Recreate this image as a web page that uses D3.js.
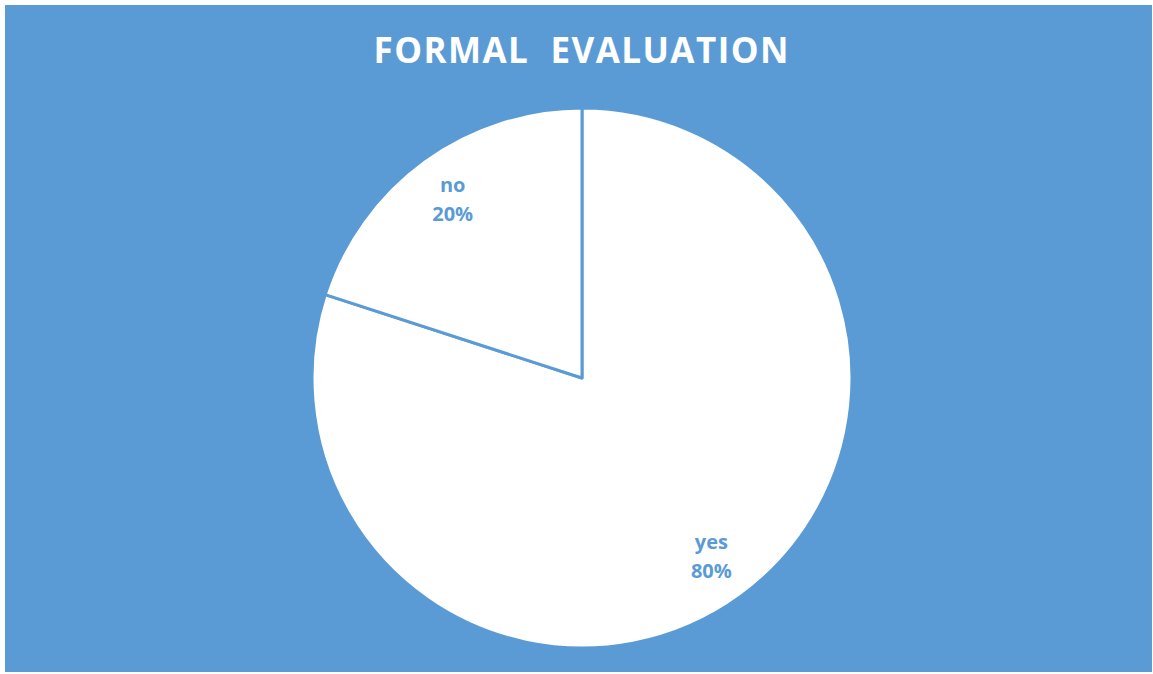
<!DOCTYPE html>
<html>
<head>
<meta charset="utf-8">
<script src="https://cdn.jsdelivr.net/npm/d3@7"></script>
<style>
  html, body { margin: 0; padding: 0; background: #ffffff; }
  svg { display: block; }
</style>
</head>
<body>
<svg id="chart" width="1153" height="674"></svg>
<script>
// Survey answers for formal evaluation
const categories = ["yes", "no"];
const values = [80, 20];
const percentLabels = ["80%", "20%"];
const title = "FORMAL  EVALUATION";

const W = 1153, H = 674;
const blue = "#5B9BD5";
const font = "'Open Sans', 'Liberation Sans', sans-serif";
const svg = d3.select("#chart");

// chart area background
svg.append("rect")
  .attr("x", 5).attr("y", 5)
  .attr("width", W - 6).attr("height", H - 7)
  .attr("fill", blue);

// title
svg.append("text")
  .attr("x", 581).attr("y", 63)
  .attr("text-anchor", "middle")
  .attr("fill", "#ffffff")
  .attr("font-family", font)
  .attr("font-weight", "bold")
  .attr("font-size", 35)
  .attr("textLength", 415)
  .attr("lengthAdjust", "spacing")
  .style("white-space", "pre")
  .text(title);

const cx = 582, cy = 378, r = 270;
const g = svg.append("g").attr("transform", `translate(${cx},${cy})`);

const pie = d3.pie().sort(null).value(d => d.value);
const data = categories.map((c, i) => ({ cat: c, value: values[i], pct: percentLabels[i] }));
const arcs = pie(data);

const arc = d3.arc().innerRadius(0).outerRadius(r);
g.selectAll("path.slice")
  .data(arcs)
  .join("path")
  .attr("class", "slice")
  .attr("d", arc)
  .attr("fill", "#ffffff")
  .attr("stroke", blue)
  .attr("stroke-width", 3)
  .attr("stroke-linejoin", "round");

// labels placed inside each slice, on the slice bisector
const labelArc = d3.arc().innerRadius(r * 0.815).outerRadius(r * 0.815);

const labels = g.selectAll("g.label")
  .data(arcs)
  .join("g")
  .attr("class", "label")
  .attr("transform", d => {
    const p = labelArc.centroid(d);
    return `translate(${p[0]},${p[1]})`;
  });

labels.append("text")
  .attr("text-anchor", "middle")
  .attr("y", -7.5)
  .attr("fill", blue)
  .attr("font-family", font)
  .attr("font-weight", "bold")
  .attr("font-size", 20)
  .text(d => d.data.cat);

labels.append("text")
  .attr("text-anchor", "middle")
  .attr("y", 21.5)
  .attr("fill", blue)
  .attr("font-family", font)
  .attr("font-weight", "bold")
  .attr("font-size", 20)
  .text(d => d.data.pct);
</script>
</body>
</html>
